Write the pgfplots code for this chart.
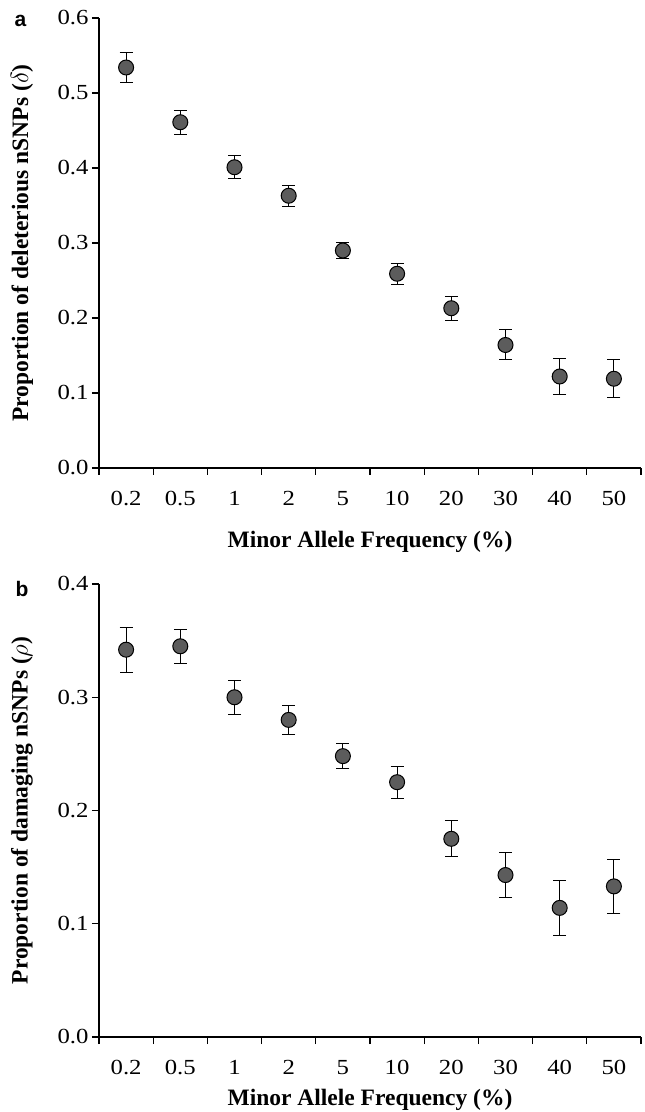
\documentclass[border=0pt]{standalone}
\usepackage{fontspec}
\setmainfont{Liberation Serif}
\newfontfamily\panelfont{Liberation Sans}
\newfontfamily\tickfont{Liberation Serif}[FakeStretch=1.15]
\usepackage{pgfplots}
\pgfplotsset{compat=1.18}

\definecolor{dotgray}{HTML}{5C5C5C}

\pgfplotstableread{
x   y     e
0.5 0.534 0.020
1.5 0.461 0.016
2.5 0.401 0.015
3.5 0.363 0.014
4.5 0.290 0.011
5.5 0.259 0.014
6.5 0.213 0.016
7.5 0.164 0.020
8.5 0.122 0.024
9.5 0.119 0.025
}\deleterious

\pgfplotstableread{
x   y     e
0.5 0.342 0.020
1.5 0.345 0.015
2.5 0.300 0.015
3.5 0.280 0.013
4.5 0.248 0.011
5.5 0.225 0.014
6.5 0.175 0.016
7.5 0.143 0.020
8.5 0.114 0.024
9.5 0.133 0.024
}\damaging

\pgfplotsset{
  mafpanel/.style={
    scale only axis, width=542pt,
    axis lines*=left, clip=false,
    axis line style={line width=1.2pt, black},
    xmin=0, xmax=10,
    xtick={0.5,1.5,...,9.5},
    xticklabels={0.2,0.5,1,2,5,10,20,30,40,50},
    minor xtick={0,1,...,10},
    major x tick style={draw=none},
    major tick length=7pt, minor tick length=7pt,
    tick align=outside,
    tick style={black, line width=1.2pt},
    /pgf/number format/assume math mode=true,
    yticklabel style={/pgf/number format/fixed, /pgf/number format/precision=1,
      /pgf/number format/fixed zerofill},
    tick label style={font=\tickfont\fontsize{21.5}{21.5}\selectfont},
    xticklabel style={yshift=-13pt},
    label style={font=\bfseries\fontsize{23.5}{23.5}\selectfont},
    xlabel={Minor Allele Frequency (\%)},
    ylabel style={at={(axis description cs:-0.142,0.5)}, anchor=center},
  },
  dots/.style={
    only marks, mark=*, mark size=7.5pt,
    mark options={fill=dotgray, draw=black, line width=1pt},
    error bars/.cd, y dir=both, y explicit,
    error bar style={line width=1pt, black},
    error mark options={rotate=90, mark size=6.5pt, line width=1pt, black},
  },
}

\begin{document}
\begin{tikzpicture}
\useasboundingbox (0pt,0pt) rectangle (645pt,1112pt);

\begin{axis}[mafpanel,
  at={(99pt,644pt)}, anchor=south west, height=450pt,
  ymin=0, ymax=0.6, ytick={0,0.1,...,0.6},
  ylabel={Proportion of deleterious nSNPs ($\delta$)},
  xlabel style={at={(axis description cs:0.5,-0.164)}, anchor=center},
]
\addplot[dots] table[x=x, y=y, y error=e] {\deleterious};
\node[font=\panelfont\bfseries\fontsize{21}{21}\selectfont] at (axis description cs:-0.145,0.994) {a};
\end{axis}

\begin{axis}[mafpanel,
  at={(99pt,75pt)}, anchor=south west, height=453pt,
  ymin=0, ymax=0.4, ytick={0,0.1,...,0.4},
  ylabel={Proportion of damaging nSNPs ($\rho$)},
  xlabel style={at={(axis description cs:0.5,-0.139)}, anchor=center},
]
\addplot[dots] table[x=x, y=y, y error=e] {\damaging};
\node[font=\panelfont\bfseries\fontsize{21}{21}\selectfont] at (axis description cs:-0.142,0.99) {b};
\end{axis}
\end{tikzpicture}
\end{document}
